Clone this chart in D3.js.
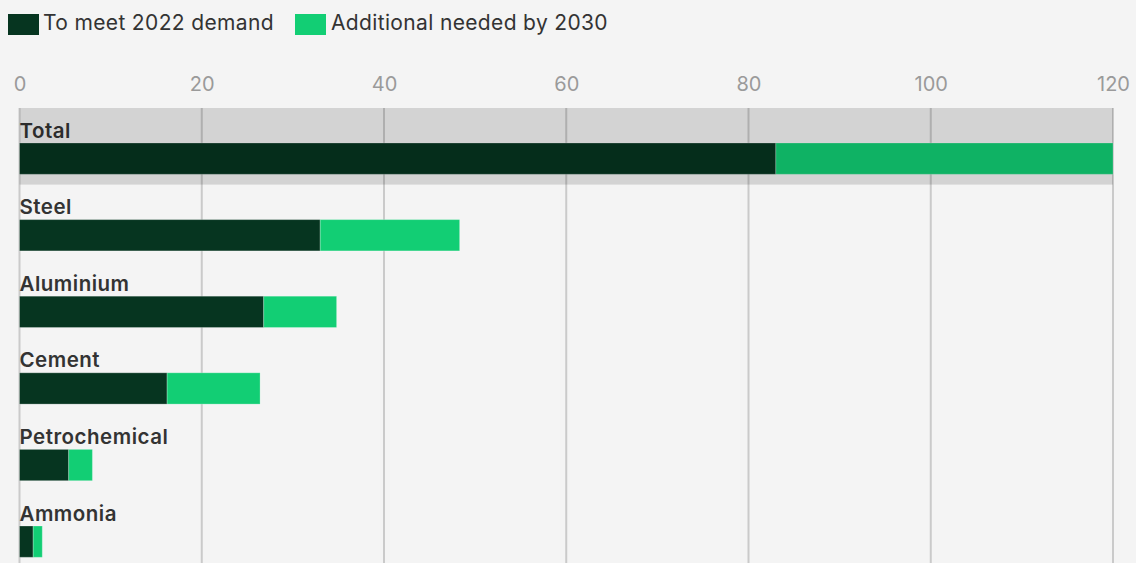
<!DOCTYPE html>
<html>
<head>
<meta charset="utf-8">
<script src="https://cdn.jsdelivr.net/npm/d3@7"></script>
<style>
  html, body { margin: 0; padding: 0; background: #f4f4f4; }
  svg { display: block; font-family: Inter, "Noto Sans", sans-serif; }
</style>
</head>
<body>
<svg id="chart" width="1136" height="563"></svg>
<script>
// Capacity by sector: what is needed for 2022 demand and the extra by 2030
const categories = ["Total", "Steel", "Aluminium", "Cement", "Petrochemical", "Ammonia"];
const demand2022 = [83, 33, 26.8, 16.2, 5.4, 1.5];
const additional2030 = [37, 15.3, 8.0, 10.2, 2.6, 1.0];
const tickValues = [0, 20, 40, 60, 80, 100, 120];
const seriesNames = ["To meet 2022 demand", "Additional needed by 2030"];
const seriesColors = ["#063520", "#12ce74"];

const svg = d3.select("#chart");
const W = 1136, H = 563;

const x = d3.scaleLinear().domain([0, 120]).range([19.5, 1113]);
const rowStep = 76.6;
const y = d3.scaleBand().domain(categories).range([108, 108 + rowStep * categories.length]).padding(0);
const barOffset = 35, barH = 31.3;

// stacked series
const rows = categories.map((c, i) => ({ category: c, a: demand2022[i], b: additional2030[i] }));
const stack = d3.stack().keys(["a", "b"])(rows);

// legend
const legend = svg.append("g");
const legendItems = [{ x: 8, tx: 43 }, { x: 295, tx: 331 }];
seriesNames.forEach((name, i) => {
  legend.append("rect")
    .attr("x", legendItems[i].x).attr("y", 14)
    .attr("width", 31).attr("height", 21)
    .attr("fill", seriesColors[i]);
  legend.append("text")
    .attr("x", legendItems[i].tx).attr("y", 29.5)
    .attr("font-size", 21).attr("letter-spacing", 0.35).attr("fill", "#333")
    .text(name);
});

// tick labels above the plot
const axis = d3.axisTop(x).tickValues(tickValues).tickSize(0).tickPadding(0).tickFormat(d3.format("d"));
const axisG = svg.append("g").attr("transform", "translate(0,91)").call(axis);
axisG.select(".domain").remove();
axisG.selectAll("text")
  .attr("dy", 0)
  .attr("font-size", 20)
  .attr("font-family", "Inter, 'Noto Sans', sans-serif")
  .attr("fill", "#9a9a9a");

// vertical gridlines
svg.append("g").selectAll("line")
  .data(tickValues)
  .join("line")
  .attr("x1", d => x(d)).attr("x2", d => x(d))
  .attr("y1", 108).attr("y2", H)
  .attr("stroke", "#cacaca").attr("stroke-width", 2);

// bars
svg.append("g").selectAll("g")
  .data(stack)
  .join("g")
  .attr("fill", (d, i) => seriesColors[i])
  .selectAll("rect")
  .data(d => d)
  .join("rect")
  .attr("x", d => x(d[0]))
  .attr("width", d => x(d[1]) - x(d[0]))
  .attr("y", d => y(d.data.category) + barOffset)
  .attr("height", barH)
  .attr("stroke", "rgba(255,255,255,0.25)")
  .attr("stroke-width", 1);

// category labels
svg.append("g").selectAll("text")
  .data(categories)
  .join("text")
  .attr("x", 19.5)
  .attr("y", d => y(d) + 29.5)
  .attr("font-size", 20.5)
  .attr("letter-spacing", 0.5)
  .attr("font-weight", 600)
  .attr("fill", "#333")
  .text(d => d);

// shaded band over the Total row
svg.append("rect")
  .attr("x", x(0)).attr("y", y("Total"))
  .attr("width", x(120) - x(0)).attr("height", y.bandwidth())
  .attr("fill", "rgba(0,0,0,0.135)");
</script>
</body>
</html>
